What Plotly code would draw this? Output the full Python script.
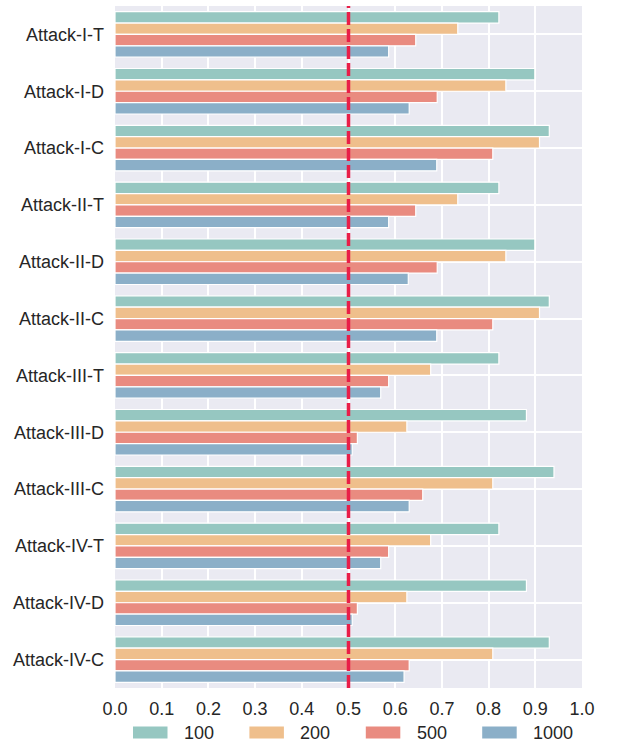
import plotly.graph_objects as go

categories = ["Attack-I-T", "Attack-I-D", "Attack-I-C",
              "Attack-II-T", "Attack-II-D", "Attack-II-C",
              "Attack-III-T", "Attack-III-D", "Attack-III-C",
              "Attack-IV-T", "Attack-IV-D", "Attack-IV-C"]
series_names = ["100", "200", "500", "1000"]
v100 = [0.822, 0.899, 0.930, 0.822, 0.899, 0.930, 0.822, 0.881, 0.940, 0.822, 0.881, 0.930]
v200 = [0.734, 0.837, 0.909, 0.734, 0.837, 0.909, 0.676, 0.625, 0.809, 0.676, 0.625, 0.809]
v500 = [0.644, 0.690, 0.809, 0.644, 0.690, 0.809, 0.586, 0.519, 0.659, 0.586, 0.519, 0.630]
v1000 = [0.586, 0.630, 0.689, 0.586, 0.628, 0.689, 0.569, 0.508, 0.630, 0.569, 0.508, 0.619]
threshold = 0.5
x_ticks = [0.0, 0.1, 0.2, 0.3, 0.4, 0.5, 0.6, 0.7, 0.8, 0.9, 1.0]

colors = ["#96C7C1", "#EFBF8C", "#E98B80", "#8BAFC8"]
FONT = "Liberation Sans, Arial, sans-serif"
TEXT = "#262626"

W, H = 621, 742
ML, MR, MT, MB = 115, 39, 6, 54
PW, PH = W - ML - MR, H - MT - MB


def px2paper(px, py):
    return (px - ML) / PW, (H - MB - py) / PH


fig = go.Figure()
for name, vals, col in zip(series_names, [v100, v200, v500, v1000], colors):
    fig.add_trace(go.Bar(
        y=categories, x=vals, name=name, orientation="h",
        marker=dict(color=col, line=dict(color="white", width=1.2)),
    ))

fig.add_shape(type="line", x0=threshold, x1=threshold, xref="x",
              y0=0, y1=1, yref="paper", layer="above",
              line=dict(color="#E91E48", width=3.5, dash="13px,4px"))

# custom legend (wide matplotlib-style patches)
legend_step = 116.4
for i, (name, col) in enumerate(zip(series_names, colors)):
    x0p = 133 + i * legend_step
    ax0, ay0 = px2paper(x0p, 738.5)
    ax1, ay1 = px2paper(x0p + 34.5, 726.5)
    fig.add_shape(type="rect", xref="paper", yref="paper", x0=ax0, x1=ax1, y0=ay0, y1=ay1,
                  fillcolor=col, line=dict(width=0), layer="above")
    tx, ty = px2paper(x0p + 49, 732.5)
    fig.add_annotation(x=tx, y=ty, xref="paper", yref="paper", text=name, showarrow=False,
                       xanchor="left", yanchor="middle", font=dict(size=18, color=TEXT, family=FONT))

fig.update_layout(
    width=W, height=H,
    margin=dict(l=ML, r=MR, t=MT, b=MB),
    paper_bgcolor="white", plot_bgcolor="#EAEAF2",
    barmode="group", bargap=0.2, bargroupgap=0,
    font=dict(family=FONT, size=18, color=TEXT),
    showlegend=False,
    xaxis=dict(range=[0, 1.0], tickvals=x_ticks, ticktext=[f"{t:.1f}" for t in x_ticks],
               showgrid=True, gridcolor="white", gridwidth=1.5, zeroline=False,
               showline=False, ticks="", ticklabelstandoff=8),
    yaxis=dict(autorange="reversed", showgrid=True, gridcolor="white", gridwidth=1.5,
               zeroline=False, showline=False, ticks="", ticklabelstandoff=10),
)

fig.write_html("out.html", config={"displayModeBar": False},
               post_script="document.body.style.margin='0px';document.body.style.overflow='hidden';")
